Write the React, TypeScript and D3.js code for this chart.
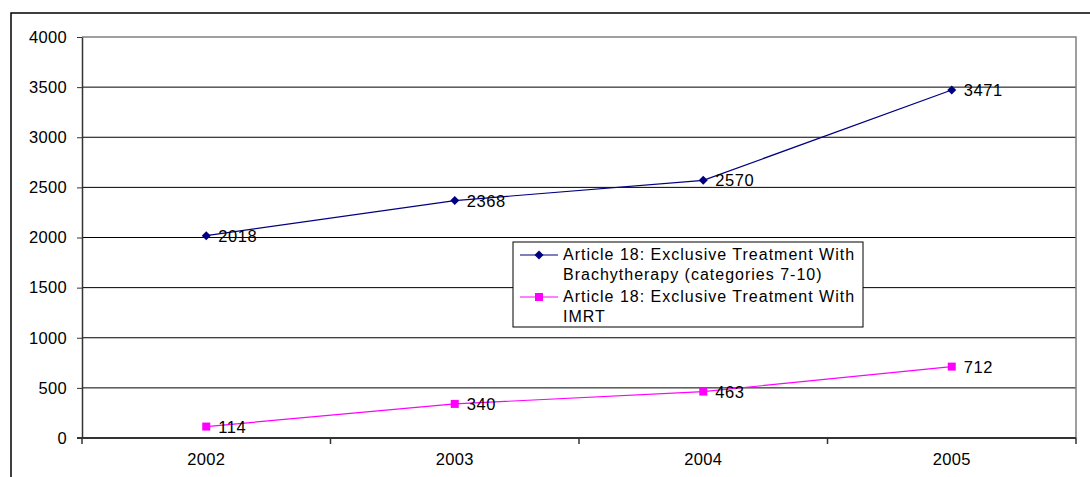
import { useEffect, useRef } from "react";
import * as d3 from "d3";

const years = ["2002", "2003", "2004", "2005"];
const brachyValues = [2018, 2368, 2570, 3471];
const imrtValues = [114, 340, 463, 712];
const yTicks = [0, 500, 1000, 1500, 2000, 2500, 3000, 3500, 4000];
const legendBrachy = ["Article 18: Exclusive Treatment With", "Brachytherapy (categories 7-10)"];
const legendImrt = ["Article 18: Exclusive Treatment With", "IMRT"];

const FONT = "Arial, 'Liberation Sans', sans-serif";

const App = () => {
  const chartRef = useRef<HTMLDivElement>(null);

  useEffect(() => {
    if (!chartRef.current) return;
    const width = 1090;
    const height = 477;
    const margin = { top: 37, right: 14, bottom: 39, left: 82 };

    d3.select(chartRef.current).html("");

    const svg = d3
      .select(chartRef.current)
      .append("svg")
      .attr("width", width)
      .attr("height", height)
      .style("position", "absolute")
      .style("left", "0px")
      .style("top", "0px")
      .style("font-family", FONT);

    svg.append("rect").attr("width", width).attr("height", height).attr("fill", "#fff");

    // outer chart border (top and left are visible)
    svg
      .append("path")
      .attr("d", `M11,${height} V13 H${width}`)
      .attr("fill", "none")
      .attr("stroke", "#000")
      .attr("stroke-width", 1.5);

    const xScale = d3
      .scaleBand()
      .domain(years)
      .range([margin.left, width - margin.right]);

    const yScale = d3
      .scaleLinear()
      .domain([0, 4000])
      .range([height - margin.bottom, margin.top]);

    const x0 = margin.left;
    const x1 = width - margin.right;
    const yBottom = yScale(0);
    const yTop = yScale(4000);

    // gridlines
    svg
      .append("g")
      .selectAll("line")
      .data(yTicks.filter((t) => t > 0 && t < 4000))
      .join("line")
      .attr("x1", x0)
      .attr("x2", x1)
      .attr("y1", (d) => yScale(d))
      .attr("y2", (d) => yScale(d))
      .attr("stroke", "#000")
      .attr("stroke-width", 1);

    // plot border top & right
    svg
      .append("path")
      .attr("d", `M${x0},${yTop} H${x1} V${yBottom}`)
      .attr("fill", "none")
      .attr("stroke", "#808080")
      .attr("stroke-width", 1.5);

    // y axis
    const yAxis = svg
      .append("g")
      .attr("transform", `translate(${x0},0)`)
      .call(
        d3
          .axisLeft(yScale)
          .tickValues(yTicks)
          .tickSize(5)
          .tickPadding(10)
          .tickSizeOuter(0)
          .tickFormat((d) => String(d))
      );
    yAxis.attr("font-size", null).attr("font-family", null);
    yAxis.select(".domain").attr("stroke", "#333").attr("stroke-width", 1.5);
    yAxis.selectAll(".tick line").attr("stroke", "#333");
    yAxis
      .selectAll(".tick text")
      .attr("fill", "#000")
      .style("font-size", "16.5px")
      .style("letter-spacing", "0.3px");

    // x axis
    svg
      .append("line")
      .attr("x1", x0 - 5)
      .attr("x2", x1)
      .attr("y1", yBottom)
      .attr("y2", yBottom)
      .attr("stroke", "#333")
      .attr("stroke-width", 2);

    const boundaries = years.map((y) => xScale(y) as number).concat([x1]);
    svg
      .append("g")
      .selectAll("line")
      .data(boundaries)
      .join("line")
      .attr("x1", (d) => d)
      .attr("x2", (d) => d)
      .attr("y1", yBottom)
      .attr("y2", yBottom + 6)
      .attr("stroke", "#333")
      .attr("stroke-width", 1.5);

    const cx = (y: string) => (xScale(y) as number) + xScale.bandwidth() / 2;

    svg
      .append("g")
      .selectAll("text")
      .data(years)
      .join("text")
      .attr("x", (d) => cx(d))
      .attr("y", yBottom + 27)
      .attr("text-anchor", "middle")
      .style("font-size", "16.5px")
      .style("letter-spacing", "0.3px")
      .text((d) => d);

    const series = [
      { values: brachyValues, color: "#000080", shape: "diamond" },
      { values: imrtValues, color: "#FF00FF", shape: "square" },
    ];

    const line = d3
      .line<number>()
      .x((_, i) => cx(years[i]))
      .y((d) => yScale(d));

    const drawMarker = (
      g: d3.Selection<SVGGElement, unknown, null, undefined>,
      shape: string,
      color: string,
      x: number,
      y: number
    ) => {
      if (shape === "diamond") {
        g.append("path")
          .attr("d", `M${x},${y - 4.5} L${x + 4.5},${y} L${x},${y + 4.5} L${x - 4.5},${y} Z`)
          .attr("fill", color);
      } else {
        g.append("rect")
          .attr("x", x - 4)
          .attr("y", y - 4)
          .attr("width", 8)
          .attr("height", 8)
          .attr("fill", color);
      }
    };

    series.forEach((s) => {
      svg
        .append("path")
        .datum(s.values)
        .attr("d", line)
        .attr("fill", "none")
        .attr("stroke", s.color)
        .attr("stroke-width", 1.2);

      const g = svg.append("g");
      s.values.forEach((v, i) => {
        const px = cx(years[i]);
        const py = yScale(v);
        drawMarker(g as any, s.shape, s.color, px, py);
        g.append("text")
          .attr("x", px + 12)
          .attr("y", py + 6)
          .style("font-size", "16.5px")
          .style("letter-spacing", "0.6px")
          .text(String(v));
      });
    });

    // legend
    const legend = svg.append("g").attr("transform", "translate(513,242)");
    legend
      .append("rect")
      .attr("x", 0)
      .attr("y", 0)
      .attr("width", 350)
      .attr("height", 85)
      .attr("fill", "#fff")
      .attr("stroke", "#000")
      .attr("stroke-width", 1);

    const legendItems = [
      { lines: legendBrachy, color: "#000080", shape: "diamond", y: 13 },
      { lines: legendImrt, color: "#FF00FF", shape: "square", y: 55 },
    ];
    legendItems.forEach((item) => {
      legend
        .append("line")
        .attr("x1", 7)
        .attr("x2", 45)
        .attr("y1", item.y)
        .attr("y2", item.y)
        .attr("stroke", item.color)
        .attr("stroke-width", 1.2);
      drawMarker(legend as any, item.shape, item.color, 26, item.y);
      item.lines.forEach((t, i) => {
        legend
          .append("text")
          .attr("x", 50)
          .attr("y", item.y + 5 + i * 20)
          .style("font-size", "16px")
          .style("letter-spacing", "1px")
          .text(t);
      });
    });
  }, []);

  return <div ref={chartRef}></div>;
};

export default App;
